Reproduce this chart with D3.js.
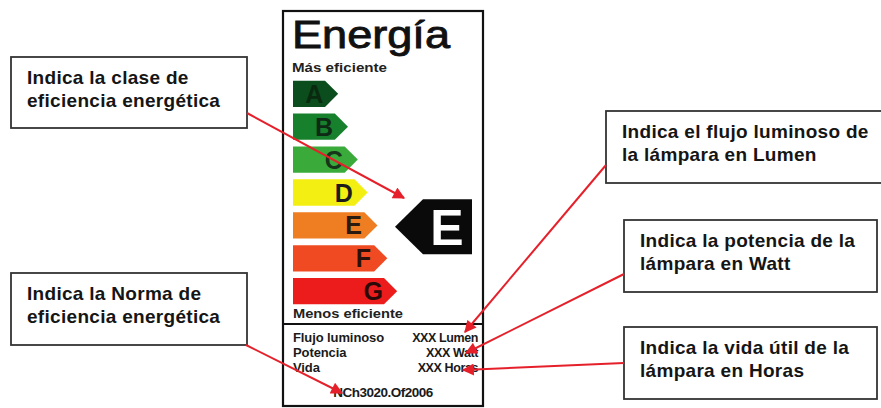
<!DOCTYPE html>
<html>
<head>
<meta charset="utf-8">
<script src="https://cdn.jsdelivr.net/npm/d3@7"></script>
<style>
  body { margin: 0; background: #fff; }
  svg { display: block; }
</style>
</head>
<body>
<svg id="chart"></svg>
<script>
var width = 881
var height = 408

// energy classes, top (most efficient) to bottom
var classes = ["A", "B", "C", "D", "E", "F", "G"]
var classColors = ["#0b4d1c", "#17802c", "#3aab3a", "#f4ef12", "#ef7d22", "#ef4a22", "#ec1c1c"]
var letterColors = ["#0a2a10", "#0f2a14", "#16351a", "#1c1c1c", "#2a1a10", "#2a1008", "#2a0a08"]
var barRank = [1, 2, 3, 4, 5, 6, 7]
var ratedClass = "E"

var infoLabels = ["Flujo luminoso", "Potencia", "Vida"]
var infoValues = ["XXX Lumen", "XXX Watt", "XXX Horas"]
var normText = "NCh3020.Of2006"

var callouts = [
  {lines: ["Indica la clase de", "eficiencia energética"]},
  {lines: ["Indica la Norma de", "eficiencia energética"]},
  {lines: ["Indica el flujo luminoso de", "la lámpara en Lumen"]},
  {lines: ["Indica la potencia de la", "lámpara en Watt"]},
  {lines: ["Indica la vida útil de la", "lámpara en Horas"]}
]

var svg = d3.select("#chart")
	.attr("width", width)
	.attr("height", height)

var red = "#e5202a"
var labelFont = "Liberation Sans, Arial, sans-serif"

svg.append("defs").append("marker")
	.attr("id", "head")
	.attr("viewBox", "0 0 10 10")
	.attr("refX", 9)
	.attr("refY", 5)
	.attr("markerWidth", 6.5)
	.attr("markerHeight", 6)
	.attr("orient", "auto")
	.attr("markerUnits", "strokeWidth")
	.append("path")
	.attr("d", "M0,0 L10,5 L0,10 Z")
	.attr("fill", red)

// ---- label frame ----
var frame = {x: 283, y: 11, w: 200, h: 395, split: 324}

svg.append("rect")
	.attr("x", frame.x)
	.attr("y", frame.y)
	.attr("width", frame.w)
	.attr("height", frame.h)
	.attr("fill", "#fff")
	.attr("stroke", "#111")
	.attr("stroke-width", 2.2)

svg.append("line")
	.attr("x1", frame.x)
	.attr("x2", frame.x + frame.w)
	.attr("y1", frame.split)
	.attr("y2", frame.split)
	.attr("stroke", "#111")
	.attr("stroke-width", 2.2)

svg.append("text")
	.attr("x", 292)
	.attr("y", 48)
	.attr("font-family", labelFont)
	.attr("font-size", 39)
	.attr("textLength", 158)
	.attr("lengthAdjust", "spacingAndGlyphs")
	.attr("fill", "#111")
	.attr("stroke", "#111")
	.attr("stroke-width", 0.9)
	.text("Energía")

svg.append("text")
	.attr("x", 292)
	.attr("y", 72)
	.attr("font-family", labelFont)
	.attr("font-weight", "bold")
	.attr("font-size", 13)
	.attr("textLength", 95)
	.attr("lengthAdjust", "spacingAndGlyphs")
	.attr("fill", "#222")
	.text("Más eficiente")

svg.append("text")
	.attr("x", 293)
	.attr("y", 318)
	.attr("font-family", labelFont)
	.attr("font-weight", "bold")
	.attr("font-size", 13)
	.attr("textLength", 110)
	.attr("lengthAdjust", "spacingAndGlyphs")
	.attr("fill", "#222")
	.text("Menos eficiente")

// ---- class bars ----
var y = d3.scaleBand()
	.domain(classes)
	.range([79, 306])
	.paddingInner(0.2)
	.paddingOuter(0.05)

var barX0 = 293
var len = d3.scaleLinear()
	.domain([1, 7])
	.range([32, 91])

var bars = svg.selectAll("g.bar")
	.data(classes)
	.join("g")
	.attr("class", "bar")

bars.append("path")
	.attr("d", function(d, i){
		var top = y(d), h = y.bandwidth(), end = barX0 + len(barRank[i])
		return "M" + barX0 + "," + top + "L" + end + "," + top +
			"L" + (end + h / 2) + "," + (top + h / 2) +
			"L" + end + "," + (top + h) + "L" + barX0 + "," + (top + h) + "Z"
	})
	.attr("fill", function(d, i){ return classColors[i] })

bars.append("text")
	.attr("x", function(d, i){ return barX0 + len(barRank[i]) + y.bandwidth() / 2 - 24 })
	.attr("y", function(d){ return y(d) + y.bandwidth() / 2 + 9 })
	.attr("text-anchor", "middle")
	.attr("font-family", labelFont)
	.attr("font-weight", "bold")
	.attr("font-size", 25)
	.attr("fill", function(d, i){ return letterColors[i] })
	.text(function(d){ return d })

// rated class indicator
var ry = y(ratedClass) - 13
var rh = 55
svg.append("path")
	.attr("d", "M395," + (ry + rh / 2) + "L423," + ry + "L472," + ry +
		"L472," + (ry + rh) + "L423," + (ry + rh) + "Z")
	.attr("fill", "#0a0a0a")

svg.append("text")
	.attr("x", 447)
	.attr("y", ry + rh / 2 + 18)
	.attr("text-anchor", "middle")
	.attr("font-family", labelFont)
	.attr("font-weight", "bold")
	.attr("font-size", 50)
	.attr("fill", "#fff")
	.text(ratedClass)

// ---- info rows ----
var infoY = d3.scalePoint()
	.domain(infoLabels)
	.range([342, 372])

svg.selectAll("text.info-l")
	.data(infoLabels)
	.join("text")
	.attr("class", "info-l")
	.attr("x", 293)
	.attr("y", function(d){ return infoY(d) })
	.attr("font-family", labelFont)
	.attr("font-weight", "bold")
	.attr("font-size", 13)
	.attr("letter-spacing", -0.1)
	.attr("fill", "#1a1a1a")
	.text(function(d){ return d })

svg.selectAll("text.info-v")
	.data(infoValues)
	.join("text")
	.attr("class", "info-v")
	.attr("x", 478)
	.attr("y", function(d, i){ return infoY(infoLabels[i]) })
	.attr("text-anchor", "end")
	.attr("font-family", labelFont)
	.attr("font-weight", "bold")
	.attr("font-size", 12.5)
	.attr("letter-spacing", -0.4)
	.attr("fill", "#1a1a1a")
	.text(function(d){ return d })

svg.append("text")
	.attr("x", 383)
	.attr("y", 397)
	.attr("text-anchor", "middle")
	.attr("font-family", labelFont)
	.attr("font-weight", "bold")
	.attr("font-size", 13.5)
	.attr("letter-spacing", -0.5)
	.attr("fill", "#1a1a1a")
	.text(normText)

// ---- callout boxes ----
var boxes = [
	{x: 11, y: 57, w: 236, h: 71},
	{x: 11, y: 273, w: 236, h: 72},
	{x: 606, y: 111, w: 276, h: 72},
	{x: 624, y: 220, w: 253, h: 72},
	{x: 624, y: 327, w: 253, h: 72}
]

var cg = svg.selectAll("g.callout")
	.data(callouts)
	.join("g")
	.attr("class", "callout")

cg.append("rect")
	.attr("x", function(d, i){ return boxes[i].x })
	.attr("y", function(d, i){ return boxes[i].y })
	.attr("width", function(d, i){ return boxes[i].w })
	.attr("height", function(d, i){ return boxes[i].h })
	.attr("fill", "#fff")
	.attr("stroke", "#333")
	.attr("stroke-width", 1.8)

cg.selectAll("text")
	.data(function(d, i){ return d.lines.map(function(l, j){ return {t: l, b: boxes[i], j: j} }) })
	.join("text")
	.attr("x", function(d){ return d.b.x + 16 })
	.attr("y", function(d){ return d.b.y + 27 + d.j * 23 })
	.attr("font-family", labelFont)
	.attr("font-weight", "bold")
	.attr("font-size", 19)
	.attr("letter-spacing", 0.3)
	.attr("fill", "#151515")
	.text(function(d){ return d.t })

// ---- arrows ----
var arrows = [
	[247, 113, 404, 198],
	[246, 345, 342, 393],
	[606, 165, 465, 332],
	[624, 274, 466, 353],
	[624, 363, 463, 370]
]

svg.selectAll("line.arrow")
	.data(arrows)
	.join("line")
	.attr("class", "arrow")
	.attr("x1", function(d){ return d[0] })
	.attr("y1", function(d){ return d[1] })
	.attr("x2", function(d){ return d[2] })
	.attr("y2", function(d){ return d[3] })
	.attr("stroke", red)
	.attr("stroke-width", 2)
	.attr("marker-end", "url(#head)")
</script>
</body>
</html>
